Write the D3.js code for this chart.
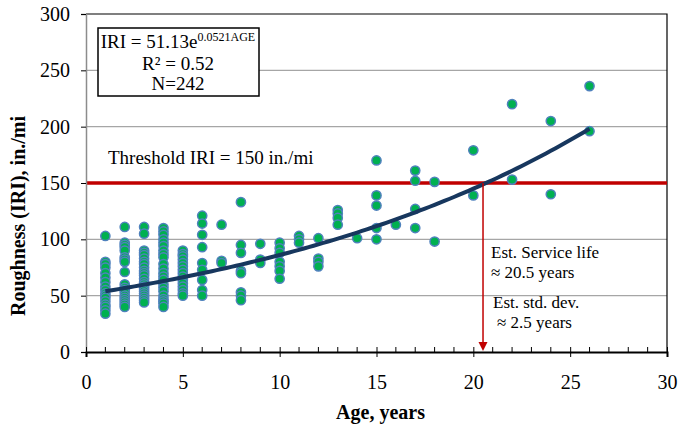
<!DOCTYPE html>
<html>
<head>
<meta charset="utf-8">
<script src="https://cdn.jsdelivr.net/npm/d3@7"></script>
<style>
  body { margin: 0; background: #fff; }
</style>
</head>
<body>
<div class="chart-area"></div>
<script>
const width = 679
const height = 431
const margin = { top: 14, right: 12, bottom: 79, left: 86 }
const serif = "'Liberation Serif', 'Times New Roman', Times, 'DejaVu Serif', serif"

// ages observed and the IRI readings at each age
const ages = [1, 2, 3, 4, 5, 6, 7, 8, 9, 10, 11, 12, 13, 14, 15, 16, 17, 18, 20, 22, 24, 26]
const iriByAge = [
  [103, 80, 78, 75, 70, 66, 62, 58, 55, 52, 50, 48, 45, 42, 40, 37, 34],
  [111, 97, 95, 93, 90, 84, 82, 80, 71, 60, 57, 55, 53, 50, 48, 46, 44, 42, 40],
  [111, 105, 90, 88, 86, 83, 80, 78, 75, 72, 70, 68, 65, 62, 60, 58, 56, 54, 52, 50, 48, 46, 44],
  [110, 107, 104, 100, 97, 94, 90, 87, 84, 78, 74, 70, 67, 64, 60, 57, 54, 50, 47, 45, 43, 40],
  [90, 87, 85, 82, 79, 76, 73, 70, 67, 64, 61, 58, 55, 52, 50],
  [121, 114, 104, 93, 79, 73, 64, 55, 50],
  [113, 81, 79],
  [133, 95, 88, 72, 70, 53, 50, 46],
  [96, 82, 79],
  [97, 92, 88, 80, 76, 72, 65],
  [103, 100, 97],
  [101, 83, 80, 76],
  [126, 123, 119, 113],
  [101],
  [170, 139, 130, 110, 100],
  [113],
  [161, 152, 127, 110],
  [151, 98],
  [179, 139],
  [220, 153],
  [205, 140],
  [236, 196]
]

const xTicks = [0, 5, 10, 15, 20, 25, 30]
const yTicks = [0, 50, 100, 150, 200, 250, 300]

// exponential fit from the chart box
const fitA = 51.13
const fitB = 0.0521
const fitRange = [1, 26]
const threshold = 150
const serviceLife = 20.5

const points = []
ages.forEach((age, i) => iriByAge[i].forEach(v => points.push({ age: age, iri: v })))

const svg = d3.select("div.chart-area")
  .append("svg")
  .attr("width", width)
  .attr("height", height)
  .style("font-family", serif)

const x = d3.scaleLinear().domain([0, 30]).range([margin.left, width - margin.right])
const y = d3.scaleLinear().domain([0, 300]).range([height - margin.bottom, margin.top])

// grid
svg.append("g")
  .selectAll("line")
  .data(yTicks.filter(t => t > 0 && t < 300))
  .join("line")
  .attr("x1", x(0)).attr("x2", x(30))
  .attr("y1", d => y(d)).attr("y2", d => y(d))
  .attr("stroke", "#a6a6a6")
  .attr("stroke-width", 1.2)

// frame top and right
svg.append("path")
  .attr("d", `M${x(0)} ${y(300)} H${x(30)} V${y(0)}`)
  .attr("fill", "none")
  .attr("stroke", "#000")
  .attr("stroke-width", 1.2)

// threshold line
svg.append("line")
  .attr("x1", x(0)).attr("x2", x(30))
  .attr("y1", y(threshold)).attr("y2", y(threshold))
  .attr("stroke", "#c00000")
  .attr("stroke-width", 3.5)

// points
svg.append("g")
  .selectAll("circle")
  .data(points)
  .join("circle")
  .attr("cx", d => x(d.age))
  .attr("cy", d => y(d.iri))
  .attr("r", 4.6)
  .attr("fill", "#00b050")
  .attr("stroke", "#4f81bd")
  .attr("stroke-width", 1.5)

// fitted curve
const fitAges = d3.range(fitRange[0], fitRange[1] + 0.01, 0.25)
svg.append("path")
  .datum(fitAges)
  .attr("d", d3.line().x(d => x(d)).y(d => y(fitA * Math.exp(fitB * d))))
  .attr("fill", "none")
  .attr("stroke", "#17375e")
  .attr("stroke-width", 4)

// service life arrow
svg.append("line")
  .attr("x1", x(serviceLife)).attr("x2", x(serviceLife))
  .attr("y1", y(threshold)).attr("y2", y(0) - 8)
  .attr("stroke", "#c00000")
  .attr("stroke-width", 1.5)
svg.append("path")
  .attr("d", `M${x(serviceLife) - 4.5} ${y(0) - 10} L${x(serviceLife) + 4.5} ${y(0) - 10} L${x(serviceLife)} ${y(0) - 1} Z`)
  .attr("fill", "#c00000")

// y axis
const yAxis = svg.append("g")
  .attr("transform", `translate(${x(0)},0)`)
  .call(d3.axisLeft(y).tickValues(yTicks).tickSize(5).tickPadding(11))
yAxis.attr("font-family", null).attr("font-size", null)
yAxis.select(".domain").attr("stroke", "#8c8c8c").attr("stroke-width", 1.5)
yAxis.selectAll(".tick line").attr("stroke", "#000")
yAxis.selectAll("text").style("font-size", "20px").style("font-family", serif)

// x axis: minor ticks inside, major through
const xAxis = svg.append("g")
  .attr("transform", `translate(0,${y(0)})`)
  .call(d3.axisBottom(x).tickValues(xTicks).tickSize(5).tickPadding(18))
xAxis.attr("font-family", null).attr("font-size", null)
xAxis.select(".domain").attr("stroke", "#000").attr("stroke-width", 2)
xAxis.selectAll(".tick line").attr("y1", -5).attr("y2", 5).attr("stroke", "#000")
xAxis.selectAll("text").style("font-size", "20px").style("font-family", serif)
xAxis.append("g")
  .selectAll("line")
  .data(d3.range(1, 30).filter(d => d % 5 !== 0))
  .join("line")
  .attr("x1", d => x(d)).attr("x2", d => x(d))
  .attr("y1", -5).attr("y2", 0)
  .attr("stroke", "#000")

// axis titles
svg.append("text")
  .attr("x", (x(0) + x(30)) / 2 + 4)
  .attr("y", 419)
  .attr("text-anchor", "middle")
  .style("font-weight", "bold")
  .style("font-size", "20px")
  .text("Age, years")

svg.append("text")
  .attr("transform", "translate(25,216) rotate(-90)")
  .attr("text-anchor", "middle")
  .style("font-weight", "bold")
  .style("font-size", "20px")
  .text("Roughness (IRI), in./mi")

// annotations
svg.append("text")
  .attr("x", 108).attr("y", 164)
  .style("font-size", "19px")
  .text("Threshold IRI = 150 in./mi")

const note = svg.append("g").style("font-size", "17px")
note.append("text").attr("x", 491).attr("y", 258).text("Est. Service life")
note.append("text").attr("x", 491).attr("y", 278).text("\u2248 20.5 years")
note.append("text").attr("x", 493).attr("y", 308).text("Est. std. dev.")
note.append("text").attr("x", 497).attr("y", 328).text("\u2248 2.5 years")

// equation box
svg.append("rect")
  .attr("x", 98).attr("y", 28)
  .attr("width", 161).attr("height", 68)
  .attr("fill", "#fff")
  .attr("stroke", "#000")
  .attr("stroke-width", 1.5)

const eq = svg.append("text")
  .attr("x", 178).attr("y", 48)
  .attr("text-anchor", "middle")
  .style("font-size", "19px")
eq.append("tspan").text("IRI = 51.13e")
eq.append("tspan").style("font-size", "12px").attr("dy", -7).text("0.0521AGE")

svg.append("text")
  .attr("x", 178).attr("y", 70)
  .attr("text-anchor", "middle")
  .style("font-size", "19px")
  .text("R\u00b2 = 0.52")

svg.append("text")
  .attr("x", 178).attr("y", 90)
  .attr("text-anchor", "middle")
  .style("font-size", "19px")
  .text("N=242")
</script>
</body>
</html>
